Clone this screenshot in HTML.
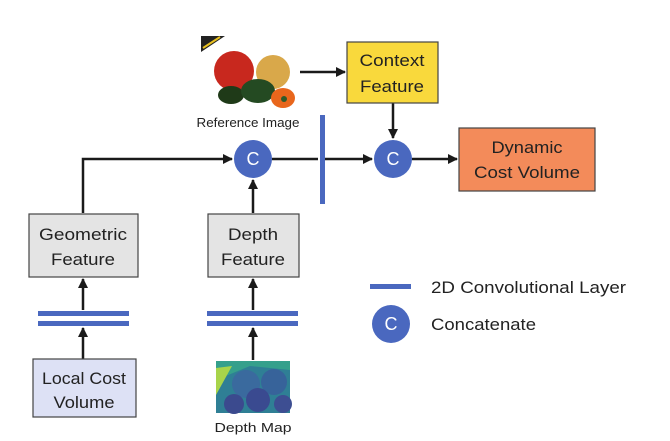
<!DOCTYPE html>
<html><head><meta charset="utf-8"><style>
html,body{margin:0;padding:0;background:#fff;}
svg{display:block;font-family:"Liberation Sans",sans-serif;}
</style></head><body>
<svg width="670" height="441" viewBox="0 0 670 441" xmlns="http://www.w3.org/2000/svg">
<defs>
<marker id="a" markerWidth="10" markerHeight="10" refX="9" refY="5" orient="auto" markerUnits="userSpaceOnUse">
<path d="M0,0 L10,5 L0,10 Z" fill="#1a1a1a"/></marker>
</defs>
<g stroke="#1a1a1a" stroke-width="2.5" fill="none">
<path d="M83,213 V159 H232" marker-end="url(#a)"/>
<line x1="253" y1="213" x2="253" y2="180" marker-end="url(#a)"/>
<line x1="272" y1="159" x2="318" y2="159"/>
<line x1="325" y1="159" x2="372" y2="159" marker-end="url(#a)"/>
<line x1="300" y1="72" x2="345" y2="72" marker-end="url(#a)"/>
<line x1="393" y1="103" x2="393" y2="138" marker-end="url(#a)"/>
<line x1="412" y1="159" x2="457" y2="159" marker-end="url(#a)"/>
<line x1="83" y1="310" x2="83" y2="279" marker-end="url(#a)"/>
<line x1="253" y1="310" x2="253" y2="279" marker-end="url(#a)"/>
<line x1="83" y1="359" x2="83" y2="328" marker-end="url(#a)"/>
<line x1="253" y1="360" x2="253" y2="328" marker-end="url(#a)"/>
</g>
<g font-size="17" fill="#222" text-anchor="middle" lengthAdjust="spacingAndGlyphs">
<rect x="347" y="42" width="91" height="61" fill="#f9d93c" stroke="#444" stroke-width="1.2"/>
<text x="392" y="66" textLength="65" lengthAdjust="spacingAndGlyphs">Context</text>
<text x="392" y="92" textLength="64" lengthAdjust="spacingAndGlyphs">Feature</text>
<rect x="459" y="128" width="136" height="63" fill="#f38b5a" stroke="#444" stroke-width="1.2"/>
<text x="527" y="153" textLength="71" lengthAdjust="spacingAndGlyphs">Dynamic</text>
<text x="527" y="178" textLength="106" lengthAdjust="spacingAndGlyphs">Cost Volume</text>
<rect x="29" y="214" width="109" height="63" fill="#e4e4e4" stroke="#444" stroke-width="1.2"/>
<text x="83" y="240" textLength="88" lengthAdjust="spacingAndGlyphs">Geometric</text>
<text x="83" y="265" textLength="64" lengthAdjust="spacingAndGlyphs">Feature</text>
<rect x="208" y="214" width="91" height="63" fill="#e4e4e4" stroke="#444" stroke-width="1.2"/>
<text x="253" y="240" textLength="50" lengthAdjust="spacingAndGlyphs">Depth</text>
<text x="253" y="265" textLength="64" lengthAdjust="spacingAndGlyphs">Feature</text>
<rect x="33" y="359" width="103" height="58" fill="#dde1f5" stroke="#444" stroke-width="1.2"/>
<text x="84" y="384" textLength="84" lengthAdjust="spacingAndGlyphs">Local Cost</text>
<text x="84" y="408" textLength="61" lengthAdjust="spacingAndGlyphs">Volume</text>
</g>
<g fill="#4a68bf">
<rect x="38" y="311" width="91" height="5"/><rect x="38" y="321" width="91" height="5"/>
<rect x="207" y="311" width="91" height="5"/><rect x="207" y="321" width="91" height="5"/>
<rect x="320" y="115" width="5" height="89"/>
<rect x="370" y="284" width="41" height="5"/>
<circle cx="253" cy="159" r="19"/><circle cx="393" cy="159" r="19"/><circle cx="391" cy="324" r="19"/>
</g>
<g fill="#fff" font-size="18" text-anchor="middle">
<text x="253" y="165">C</text><text x="393" y="165">C</text><text x="391" y="330">C</text>
</g>
<text x="431" y="293" font-size="17" fill="#222" textLength="195" lengthAdjust="spacingAndGlyphs">2D Convolutional Layer</text>
<text x="431" y="330" font-size="17" fill="#222" textLength="105" lengthAdjust="spacingAndGlyphs">Concatenate</text>
<!-- reference image -->
<polygon points="201,36 225,36 201,52" fill="#222"/>
<line x1="203" y1="48" x2="220" y2="37" stroke="#e8c020" stroke-width="2"/>
<ellipse cx="234" cy="71" rx="20" ry="20" fill="#c8281e"/>
<ellipse cx="273" cy="72" rx="17" ry="17" fill="#d9a84a"/>
<ellipse cx="231" cy="95" rx="13" ry="9" fill="#1f3a18"/>
<ellipse cx="258" cy="91" rx="17" ry="12" fill="#244a22"/>
<ellipse cx="283" cy="98" rx="12" ry="10" fill="#e8661c"/>
<circle cx="284" cy="99" r="3" fill="#2d5a2a"/>
<text x="248" y="127" text-anchor="middle" font-size="13" fill="#222" textLength="103" lengthAdjust="spacingAndGlyphs">Reference Image</text>
<!-- depth map -->
<rect x="216" y="361" width="74" height="52" fill="#2f7f95"/>
<polygon points="216,361 290,361 290,370 250,366 216,380" fill="#35a08c"/>
<polygon points="216,368 232,366 216,395" fill="#a8d44a"/>
<circle cx="246" cy="384" r="14" fill="#3a6a9e"/>
<circle cx="274" cy="382" r="13" fill="#37639a"/>
<circle cx="258" cy="400" r="12" fill="#3a4a90"/>
<circle cx="234" cy="404" r="10" fill="#3b4a8e"/>
<circle cx="283" cy="404" r="9" fill="#3d4e92"/>
<text x="253" y="432" text-anchor="middle" font-size="13" fill="#222" textLength="77" lengthAdjust="spacingAndGlyphs">Depth Map</text>
</svg>
</body></html>
